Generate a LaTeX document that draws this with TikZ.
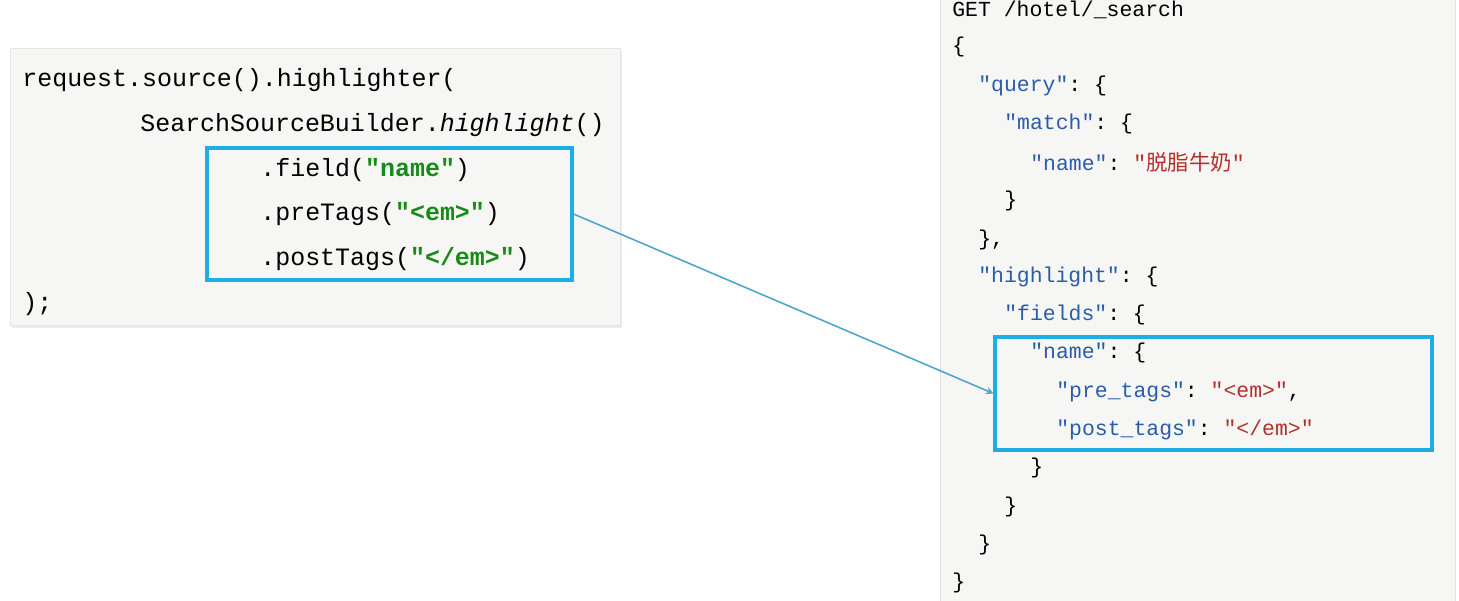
\documentclass[tikz,border=0pt]{standalone}
\usepackage{fontspec}
\setmonofont{Liberation Mono}
\newfontfamily\cjk{Noto Sans CJK SC}
\usetikzlibrary{shadows}
\usetikzlibrary{arrows}
\usetikzlibrary{positioning}
\definecolor{panelbg}{HTML}{F6F7F4}
\definecolor{hlblue}{HTML}{1EAEE6}
\definecolor{arrowblue}{HTML}{4AA8C8}
\definecolor{kwgreen}{HTML}{178A17}
\definecolor{keyblue}{HTML}{2A5DA8}
\definecolor{strred}{HTML}{B5302A}
\tikzset{panel/.style={draw=gray!20, fill=panelbg}}
\tikzset{code/.style={anchor=west, inner sep=0pt, font=\ttfamily\fontsize{14.2}{16}\selectfont}}
\tikzset{json/.style={anchor=west, inner sep=0pt, font=\ttfamily\fontsize{12.2}{14}\selectfont}}
\tikzset{hlbox/.style={draw=hlblue, line width=1.8pt}}
\tikzset{connect/.style={draw=arrowblue, line width=0.9pt}}
\newcommand{\kw}[1]{\textcolor{kwgreen}{\bfseries #1}}
\newcommand{\jk}[1]{\textcolor{keyblue}{#1}}
\newcommand{\js}[1]{\textcolor{strred}{#1}}
\begin{document}
\begin{tikzpicture}[x=0.02cm,y=-0.02cm]
\useasboundingbox (0,0) rectangle (1459,601);

\path[panel,drop shadow={opacity=0.15,shadow xshift=1pt,shadow yshift=-1.5pt}] (10,48) rectangle (620,325);
\path[panel] (940,-2) rectangle (1455,603);

% java side
\node[code] (l1) at (22,80) {request.source().highlighter(};
\node[code] (l2) at (140,125) {SearchSourceBuilder.\textit{highlight}()};
\node[code] (l3) at (260,170) {.field(\kw{"name"})};
\node[code] (l4) at (260,214) {.preTags(\kw{"<em>"})};
\node[code] (l5) at (260,259) {.postTags(\kw{"</em>"})};
\node[code] (l6) at (22,304) {);};

% json side
\node[json] (r1) at (952,10) {GET /hotel/\_search};
\node[json] (r2) at (952,47) {\{};
\node[json] (r3) at (978,86) {\jk{"query"}: \{};
\node[json] (r4) at (1004,124) {\jk{"match"}: \{};
\node[json] (r5) at (1030,162) {\jk{"name"}: \js{"{\cjk 脱脂牛奶}"}};
\node[json] (r6) at (1004,201) {\}};
\node[json] (r7) at (978,240) {\},};
\node[json] (r8) at (978,277) {\jk{"highlight"}: \{};
\node[json] (r9) at (1004,315) {\jk{"fields"}: \{};
\node[json] (r10) at (1030,353) {\jk{"name"}: \{};
\node[json] (r11) at (1056,392) {\jk{"pre\_tags"}: \js{"<em>"},};
\node[json] (r12) at (1056,430) {\jk{"post\_tags"}: \js{"</em>"}};
\node[json] (r13) at (1030,468) {\}};
\node[json] (r14) at (1004,507) {\}};
\node[json] (r15) at (978,545) {\}};
\node[json] (r16) at (952,583) {\}};

% highlight boxes
\node[hlbox, minimum width=7.3cm, minimum height=2.64cm] (jbox) at (389.5,214) {};
\node[hlbox, minimum width=8.74cm, minimum height=2.26cm] (qbox) at (1213.5,393.5) {};

\path[connect,-stealth] (jbox.east) -- (qbox.west);

\end{tikzpicture}
\end{document}
